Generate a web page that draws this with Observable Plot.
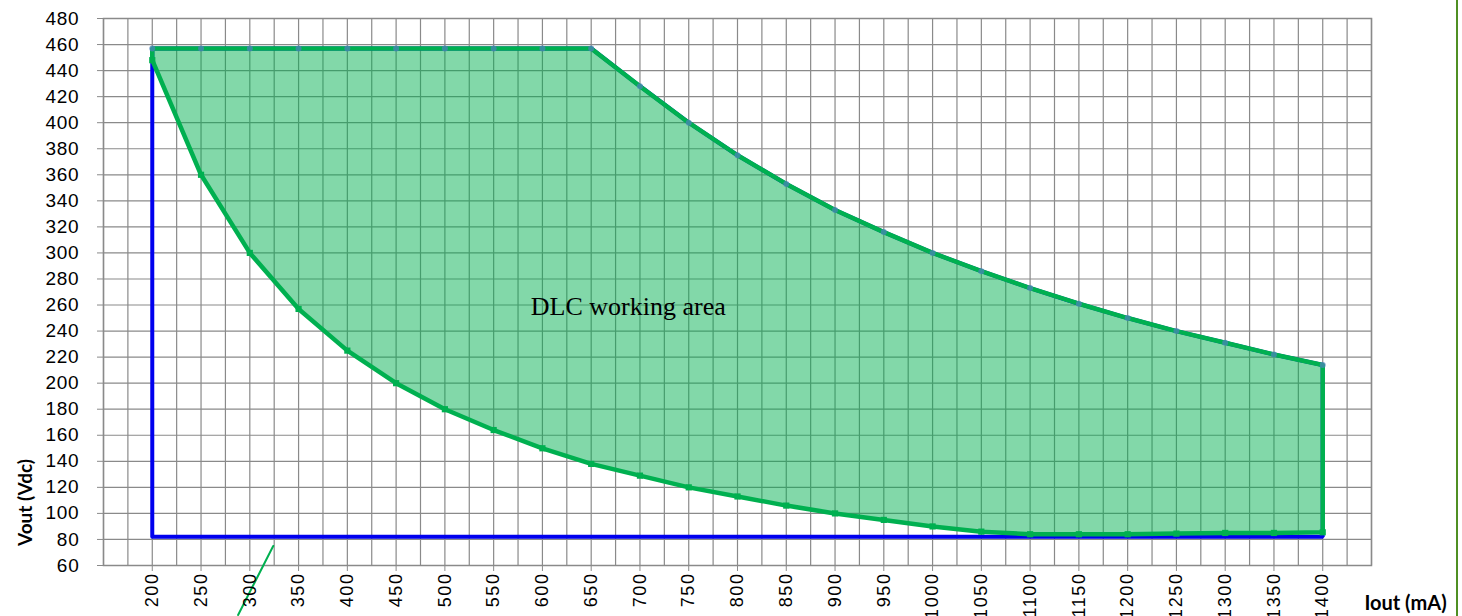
<!DOCTYPE html>
<html>
<head>
<meta charset="utf-8">
<script src="https://cdn.jsdelivr.net/npm/d3@7"></script>
<script src="https://cdn.jsdelivr.net/npm/@observablehq/plot@0.6"></script>
<style>
  html, body { margin: 0; padding: 0; background: #fff; }
  #wrap { position: relative; width: 1462px; height: 616px; overflow: hidden; }
  #border { position: absolute; left: 1456px; top: 0; width: 2px; height: 616px; background: #4f8f23; }
</style>
</head>
<body>
<div id="wrap"><div id="border"></div></div>
<script>
// ---- data ----
const currentMA = [200,250,300,350,400,450,500,550,600,650,700,750,800,850,900,950,1000,1050,1100,1150,1200,1250,1300,1350,1400];
const voutMax   = [457,457,457,457,457,457,457,457,457,457,428,400,375,353,333,316,300,286,273,261,250,240,231,222,214];
const voutMin   = [448,360,300,257,225,200,180,164,150,138,129,120,113,106,100,95,90,86,84,84,84,84.5,85,85,85.5];
const voutBase  = 82;
const xTicks = d3.range(200, 1401, 50);
const yTicks = d3.range(60, 481, 20);
const xGrid  = d3.range(150, 1451, 25);
const areaLabel = "DLC working area";
const areaLabelX = 688, areaLabelY = 259;
const leaderX = [288, 324];
const leaderY = [22, 75];
const xTitle = "Iout (mA)";
const yTitle = "Vout (Vdc)";

// ---- derived tables ----
const rows = currentMA.map((c, i) => ({c, lo: voutMin[i], hi: voutMax[i]}));
const blueBox = [
  {x: currentMA[0], y: voutBase},
  ...currentMA.map((c, i) => ({x: c, y: voutMax[i]})),
  {x: currentMA[currentMA.length - 1], y: voutBase},
  {x: currentMA[0], y: voutBase}
];
const greenOutline = [
  ...currentMA.map((c, i) => ({x: c, y: voutMax[i]})),
  ...currentMA.map((c, i) => ({x: c, y: voutMin[i]})).reverse(),
  {x: currentMA[0], y: voutMax[0]}
];
const leader = leaderX.map((x, i) => ({x, y: leaderY[i]}));

const GREEN = "#00b050", BLUE = "#0000ee";

const chart = Plot.plot({
  width: 1462,
  height: 616,
  marginLeft: 103,
  marginRight: 91,
  marginTop: 18,
  marginBottom: 51,
  style: {fontFamily: "'Liberation Sans', Arial, sans-serif", background: "transparent", overflow: "visible"},
  x: {domain: [150, 1450]},
  y: {domain: [60, 480]},
  marks: [
    Plot.gridX(xGrid, {stroke: "#8a8a8a", strokeOpacity: 1, strokeWidth: 1.2}),
    Plot.gridY(yTicks, {stroke: "#8a8a8a", strokeOpacity: 1, strokeWidth: 1.2}),
    Plot.frame({stroke: "#8a8a8a", strokeWidth: 1.5}),
    Plot.areaY(rows, {x: "c", y1: "lo", y2: "hi", fill: GREEN, fillOpacity: 0.49}),
    Plot.line(blueBox, {x: "x", y: "y", stroke: BLUE, strokeWidth: 4, strokeLinejoin: "miter"}),
    Plot.line(greenOutline, {x: "x", y: "y", stroke: GREEN, strokeWidth: 4.5, strokeLinejoin: "round"}),
    Plot.dot(rows, {x: "c", y: "hi", r: 3, fill: "#4f81bd", fillOpacity: 0.7}),
    Plot.dot(rows, {x: "c", y: "lo", r: 3.5, symbol: "square", fill: GREEN}),
    Plot.line(leader, {x: "x", y: "y", stroke: GREEN, strokeWidth: 2}),
    Plot.text([areaLabel], {x: () => areaLabelX, y: () => areaLabelY, text: d => d,
      fontFamily: "'Liberation Serif', 'Times New Roman', serif", fontSize: 26, fill: "#000"}),
    Plot.axisX(xTicks, {tickRotate: -90, tickSize: 6, tickPadding: 1, fontSize: 18, label: null,
      tickFormat: d => String(d), stroke: "#8a8a8a", fill: "#000"}),
    Plot.axisY(yTicks, {tickSize: 6, tickPadding: 18, fontSize: 19, label: null,
      tickFormat: d => String(d), stroke: "#8a8a8a", fill: "#000"}),
    Plot.text([yTitle], {frameAnchor: "bottom-left", rotate: -90, dx: -78, dy: -63, textAnchor: "middle", lineAnchor: "middle",
      fontFamily: "Lato, 'Open Sans', sans-serif", fontWeight: "bold", fontSize: 19, fill: "#000"}),
    Plot.text([xTitle], {frameAnchor: "bottom-right", dx: 34, dy: 38, textAnchor: "middle", lineAnchor: "middle",
      fontFamily: "Lato, 'Open Sans', sans-serif", fontWeight: "bold", fontSize: 20, fill: "#000"})
  ]
});
const svg = d3.select(chart);
svg.selectAll('g[aria-label="x-axis tick label"] text')
  .style("font-size", "18px").style("letter-spacing", "1.6px");
svg.selectAll('g[aria-label="y-axis tick label"] text')
  .style("font-size", "19px").style("letter-spacing", "0.8px");
chart.style.position = "absolute";
chart.style.left = "0";
chart.style.top = "0";
document.getElementById("wrap").appendChild(chart);
</script>
</body>
</html>
